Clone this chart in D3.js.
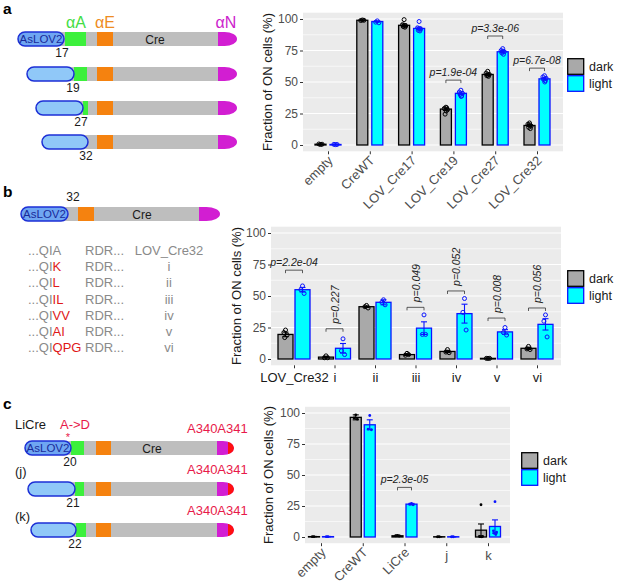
<!DOCTYPE html>
<meta charset="utf-8">
<script src="https://cdn.jsdelivr.net/npm/d3@7"></script>
<style>
  body { margin: 0; background: #fff; }
  text { font-family: "Liberation Sans", Arial, sans-serif; }
</style>
<div id="fig"></div>
<script>
// ---------- values ----------
const yTicks = [0, 25, 50, 75, 100];
const yMinor = [12.5, 37.5, 62.5, 87.5];
const groupNames = ["dark", "light"];

// panel a
const aCats = ["empty", "CreWT", "LOV_Cre17", "LOV_Cre19", "LOV_Cre27", "LOV_Cre32"];
const aDark = [0.6, 99, 95, 28.5, 56, 15.5];
const aLight = [0.4, 98, 92.5, 41, 74, 52.5];
const aDarkErr = [0.3, 0.4, 1.1, 1, 0.9, 0.8];
const aLightErr = [0.2, 0.4, 1, 1, 0.9, 0.9];
const aDarkPts = [[0.4, 0.8, 0.6], [99.2, 98.8, 99], [99.5, 95.5, 94.5, 94, 93.5, 95], [30, 29, 28, 24.5, 29.5, 27], [58.5, 57, 56, 55, 54.5, 55.5], [17.5, 16.5, 15, 14, 13, 16]];
const aLightPts = [[0.3, 0.5, 0.4], [98.5, 97.5, 97], [98, 93, 92, 91, 90.5, 92.5], [43.5, 42, 41, 40, 39, 38.5], [76.5, 75, 74, 73, 72, 74.5], [55, 54, 53, 52, 51, 50]];
const aPCats = ["LOV_Cre19", "LOV_Cre27", "LOV_Cre32"];
const aPTexts = ["p=1.9e-04", "p=3.3e-06", "p=6.7e-08"];
const aPY = [51.5, 86.5, 61];
const aLinkers = ["17", "19", "27", "32"];

// panel b
const bCats = ["LOV_Cre32", "i", "ii", "iii", "iv", "v", "vi"];
const bDark = [19.5, 1.5, 41.5, 3.5, 6, 0.5, 8.5];
const bLight = [55, 8.5, 45, 24.5, 36, 21.5, 27.5];
const bDarkErr = [1.8, 0.5, 0.6, 0.7, 0.9, 0.2, 0.9];
const bLightErr = [1.8, 3.8, 2, 5, 7.5, 1.8, 4.5];
const bDarkPts = [[23, 21, 19, 17], [2.5, 1, 1], [42.5, 41.5, 40.5], [4.5, 3, 3.5], [7.5, 5.5, 5], [0.5, 0.5, 0.5], [10, 8, 7.5]];
const bLightPts = [[58, 55, 52], [16, 6.5, 3.5], [47, 45, 43], [35, 19.5, 19.5], [48, 37, 23], [25, 21, 19], [35, 30, 17.5]];
const bPCats = ["LOV_Cre32", "i", "iii", "iv", "v", "vi"];
const bPTexts = ["p=2.2e-04", "p=0.227", "p=0.049", "p=0.052", "p=0.008", "p=0.056"];
const bPY = [70.5, 24, 41, 54, 32.5, 40.5];
const bPVertical = [false, true, true, true, true, true];
const bSeqHead = ["...QI", "...QI", "...QI", "...QI", "...QI", "...QI", "...QI"];
const bSeqMut = ["A", "K", "L", "IL", "VV", "AI", "QPG"];
const bSeqNames = ["LOV_Cre32", "i", "ii", "iii", "iv", "v", "vi"];

// panel c
const cCats = ["empty", "CreWT", "LiCre", "j", "k"];
const cDark = [0.3, 96.5, 1, 0.2, 5.5];
const cLight = [0.3, 90.5, 26.5, 0.2, 8.5];
const cDarkErr = [0.15, 2, 0.4, 0.1, 5];
const cLightErr = [0.15, 4, 0.6, 0.1, 5.3];
const cDarkPts = [[0.3, 0.3], [98.5, 96, 95], [1.2, 1, 0.8], [0.2, 0.2], [26, 0.5, 0.5, 0.3, 0.2]];
const cLightPts = [[0.3, 0.3], [98, 87, 86.5], [27, 26.5, 26], [0.2, 0.2], [28.5, 5, 4, 3, 2]];
const cPCats = ["LiCre"];
const cPTexts = ["p=2.3e-05"];
const cPY = [40];
const cNames = ["LiCre", "(j)", "(k)"];
const cLinkers = ["20", "21", "22"];

// ---------- drawing ----------
const darkFill = "#a9a9a9", lightFill = "#00ffff";
const darkLine = "#000000", lightLine = "#0a14ff";
const jit = [0, -1.6, 1.6, -0.8, 0.8, 0.3];

const svg = d3.select("#fig").append("svg").attr("width", 617).attr("height", 588);

function barChart(c) {
  const g = svg.append("g");
  const x = d3.scalePoint().domain(c.cats).range(c.xr);
  const y = d3.scaleLinear().domain([-5, 105]).range([c.yb, c.yt]);

  g.append("rect").attr("x", c.px0).attr("y", c.yt)
    .attr("width", c.px1 - c.px0).attr("height", c.yb - c.yt).attr("fill", "#ebebeb");
  g.selectAll(".minor").data(yMinor).join("line")
    .attr("x1", c.px0).attr("x2", c.px1).attr("y1", d => y(d)).attr("y2", d => y(d))
    .attr("stroke", "#fff").attr("stroke-width", 0.6);
  g.selectAll(".major").data(yTicks).join("line")
    .attr("x1", c.px0).attr("x2", c.px1).attr("y1", d => y(d)).attr("y2", d => y(d))
    .attr("stroke", "#fff").attr("stroke-width", 1.2);

  const ya = g.append("g").attr("transform", `translate(${c.px0},0)`)
    .call(d3.axisLeft(y).tickValues(yTicks).tickSize(3).tickPadding(2));
  ya.select(".domain").remove();
  ya.selectAll("line").attr("stroke", "#333");
  ya.selectAll("text").attr("fill", "#4d4d4d").style("font-size", "12px")
    .style("font-family", "Liberation Sans, Arial, sans-serif");

  const xa = g.append("g").attr("transform", `translate(0,${c.yb})`)
    .call(d3.axisBottom(x).tickSize(3));
  xa.select(".domain").remove();
  xa.selectAll("line").attr("stroke", "#333");
  const xt = xa.selectAll("text").attr("fill", c.xColor || "#4d4d4d")
    .style("font-size", "13px").style("font-family", "Liberation Sans, Arial, sans-serif");
  if (c.rotate) {
    xt.filter(d => d.length > 1)
      .attr("y", 0).attr("dy", 0).attr("text-anchor", "end")
      .attr("transform", "translate(5,10) rotate(-45)");
    xt.filter(d => d.length === 1).attr("y", 8);
  } else {
    xt.attr("y", 7);
  }

  g.append("text").attr("transform", `translate(${c.titleX},${(c.yt + c.yb) / 2}) rotate(-90)`)
    .attr("text-anchor", "middle").attr("fill", "#1a1a1a").style("font-size", "13px")
    .text("Fraction of ON cells (%)");

  const series = [
    { vals: c.dark, err: c.dErr, pts: c.dPts, off: -c.off, fill: darkFill, line: darkLine },
    { vals: c.light, err: c.lErr, pts: c.lPts, off: c.off, fill: lightFill, line: lightLine }
  ];
  series.forEach(s => {
    g.append("g").selectAll("rect").data(c.cats).join("rect")
      .attr("x", d => x(d) + s.off - c.bw / 2).attr("width", c.bw)
      .attr("y", (d, i) => y(s.vals[i]))
      .attr("height", (d, i) => y(0) - y(s.vals[i]))
      .attr("fill", s.fill).attr("stroke", s.line).attr("stroke-width", 1.3);
  });
  series.forEach(s => {
    const eg = g.append("g").attr("stroke", s.line).attr("stroke-width", 1.1);
    c.cats.forEach((d, i) => {
      const cx = x(d) + s.off, lo = y(s.vals[i] - s.err[i]), hi = y(s.vals[i] + s.err[i]);
      eg.append("line").attr("x1", cx).attr("x2", cx).attr("y1", lo).attr("y2", hi);
      eg.append("line").attr("x1", cx - 3).attr("x2", cx + 3).attr("y1", lo).attr("y2", lo);
      eg.append("line").attr("x1", cx - 3).attr("x2", cx + 3).attr("y1", hi).attr("y2", hi);
    });
    const pg = g.append("g");
    c.cats.forEach((d, i) => {
      pg.selectAll(null).data(s.pts[i]).join("circle")
        .attr("cx", (v, j) => x(d) + s.off + jit[j % jit.length])
        .attr("cy", v => y(v))
        .attr("r", c.filled ? 1.4 : 2)
        .attr("fill", c.filled ? s.line : "none")
        .attr("stroke", s.line).attr("stroke-width", c.filled ? 0 : 1);
    });
  });

  // p-value brackets
  c.pCats.forEach((d, i) => {
    const x1 = x(d) - c.off, x2 = x(d) + c.off, by = y(c.pY[i]);
    g.append("path").attr("d", `M${x1},${by + 3}V${by}H${x2}V${by + 3}`)
      .attr("fill", "none").attr("stroke", "#333").attr("stroke-width", 0.8);
    const t = g.append("text").attr("fill", "#222").style("font-size", "10.5px")
      .style("font-style", "italic").text(c.pTexts[i]);
    if (c.pVert && c.pVert[i]) {
      t.attr("text-anchor", "start")
        .attr("transform", `translate(${x(d) + 4},${by - 5}) rotate(-90)`);
    } else {
      t.attr("text-anchor", "middle").attr("x", x(d)).attr("y", by - 4);
    }
  });

  // legend
  const lg = g.append("g").attr("transform", `translate(${c.lx},${c.ly})`);
  groupNames.forEach((n, i) => {
    lg.append("rect").attr("x", 0.7).attr("y", i * 17 + 0.7).attr("width", 16).attr("height", 15.6)
      .attr("fill", i ? lightFill : darkFill).attr("stroke", i ? lightLine : darkLine)
      .attr("stroke-width", 1.3);
    lg.append("text").attr("x", 22).attr("y", i * 17 + 12.5).attr("fill", "#1a1a1a")
      .style("font-size", "12.5px").text(n);
  });
}

barChart({
  cats: aCats, dark: aDark, light: aLight, dErr: aDarkErr, lErr: aLightErr,
  dPts: aDarkPts, lPts: aLightPts, pCats: aPCats, pTexts: aPTexts, pY: aPY,
  xr: [328, 537], px0: 303, px1: 563, yb: 151.3, yt: 12.7, bw: 11, off: 7.5,
  rotate: true, titleX: 272, lx: 567, ly: 58
});
barChart({
  cats: bCats, dark: bDark, light: bLight, dErr: bDarkErr, lErr: bLightErr,
  dPts: bDarkPts, lPts: bLightPts, pCats: bPCats, pTexts: bPTexts, pY: bPY, pVert: bPVertical,
  xr: [294, 537], px0: 271, px1: 561, yb: 365.3, yt: 226.7, bw: 15, off: 8.5,
  rotate: false, xColor: "#1a1a1a", titleX: 241, lx: 567, ly: 270
});
barChart({
  cats: cCats, dark: cDark, light: cLight, dErr: cDarkErr, lErr: cLightErr,
  dPts: cDarkPts, lPts: cLightPts, pCats: cPCats, pTexts: cPTexts, pY: cPY,
  xr: [321, 488], px0: 305, px1: 510, yb: 543.2, yt: 406.8, bw: 11, off: 7,
  rotate: true, filled: true, titleX: 273, lx: 521, ly: 452
});

// ---------- construct schematics ----------
const col = { gray: "#bebebe", green: "#3cf03c", orange: "#f5820f", mag: "#d21ed2", red: "#ff1010",
  lov: "#90c8f8", lovDark: "#6fa6f2", lovLine: "#1c2fd6", greek: { A: "#44dd44", E: "#ee8c22", N: "#cc22cc" } };
const H = 14;
let clipN = 0;

function capPath(x0, y0, w) {
  const k = w * 0.35;
  return `M${x0},${y0}H${x0 + k}A${w - k},${H / 2} 0 0 1 ${x0 + k},${y0 + H}H${x0}Z`;
}

function construct(r) {
  const g = svg.append("g");
  g.append("rect").attr("x", r.lov[1] - 4).attr("y", r.y).attr("width", r.cap[0] - r.lov[1] + 5)
    .attr("height", H).attr("fill", col.gray);
  if (r.green) g.append("rect").attr("x", r.green[0]).attr("y", r.y)
    .attr("width", r.green[1] - r.green[0]).attr("height", H).attr("fill", col.green);
  g.append("rect").attr("x", r.orange[0]).attr("y", r.y)
    .attr("width", r.orange[1] - r.orange[0]).attr("height", H).attr("fill", col.orange);
  const cw = r.cap[1] - r.cap[0];
  g.append("path").attr("d", capPath(r.cap[0], r.y, cw)).attr("fill", col.mag);
  if (r.redFrom) {
    const id = "cap" + (clipN++);
    g.append("clipPath").attr("id", id).append("path").attr("d", capPath(r.cap[0], r.y, cw));
    g.append("rect").attr("x", r.redFrom).attr("y", r.y).attr("width", r.cap[1] - r.redFrom)
      .attr("height", H).attr("fill", col.red).attr("clip-path", `url(#${id})`);
  }
  g.append("rect").attr("x", r.lov[0]).attr("y", r.y).attr("width", r.lov[1] - r.lov[0])
    .attr("height", H).attr("rx", H / 2).attr("ry", H / 2)
    .attr("fill", r.named ? col.lovDark : col.lov).attr("stroke", col.lovLine).attr("stroke-width", 1.5);
  if (r.named) {
    g.append("text").attr("x", (r.lov[0] + r.lov[1]) / 2).attr("y", r.y + H / 2 + 4)
      .attr("text-anchor", "middle").attr("fill", "#1a2a9a").style("font-size", "11.5px").text("AsLOV2");
    g.append("text").attr("x", r.creX).attr("y", r.y + H / 2 + 4.5)
      .attr("text-anchor", "middle").attr("fill", "#1a1a1a").style("font-size", "12px").text("Cre");
  }
  if (r.num) g.append("text").attr("x", r.numX).attr("y", r.numY).attr("text-anchor", "middle")
    .attr("fill", "#1a1a1a").style("font-size", "12px").text(r.num);
}

// panel a rows
const aLayout = [
  { y: 32, lov: [18, 64], green: [65, 86], numX: 62, named: true },
  { y: 67, lov: [27, 74], green: [74, 87], numX: 73 },
  { y: 101, lov: [36, 83], green: [83, 88], numX: 81 },
  { y: 135, lov: [42, 88], green: null, numX: 86 }
];
aLayout.forEach((r, i) => construct(Object.assign({
  orange: [97, 113], cap: [218, 237], creX: 155, num: aLinkers[i], numY: r.y + H + 11
}, r)));

const greekA = [["αA", 76, col.greek.A], ["αE", 105, col.greek.E], ["αN", 226, col.greek.N]];
greekA.forEach(([t, gx, c]) => svg.append("text").attr("x", gx).attr("y", 28)
  .attr("text-anchor", "middle").attr("fill", c).style("font-size", "16px").text(t));

// panel b row + sequence table
construct({ y: 207, lov: [21, 68], green: null, orange: [78, 94], cap: [199, 220], creX: 142,
  named: true, num: "32", numX: 73, numY: 201 });
bSeqNames.forEach((n, i) => {
  const ty = 255 + i * 16.2;
  const t = svg.append("text").attr("x", 28).attr("y", ty).style("font-size", "13px");
  t.append("tspan").attr("fill", "#8a8a8a").text(bSeqHead[i]);
  t.append("tspan").attr("fill", i === 0 ? "#8a8a8a" : "#e01818").text(bSeqMut[i]);
  svg.append("text").attr("x", 85).attr("y", ty).attr("fill", "#8a8a8a").style("font-size", "13px").text("RDR...");
  svg.append("text").attr("x", 169).attr("y", ty).attr("text-anchor", "middle")
    .attr("fill", "#8a8a8a").style("font-size", "13px").text(n);
});

// panel c rows
const cLayout = [
  { y: 441, lov: [25, 71], green: [71, 84], numX: 70, named: true, labelY: 429 },
  { y: 482, lov: [28, 75], green: [75, 84], numX: 73, labelY: 476 },
  { y: 523, lov: [31, 76], green: [76, 86], numX: 75, labelY: 521 }
];
cLayout.forEach((r, i) => {
  construct(Object.assign({ orange: [96, 111], cap: [217, 234], redFrom: 228, creX: 152,
    num: cLinkers[i], numY: r.y + H + 11 }, r));
  svg.append("text").attr("x", 15).attr("y", r.labelY).attr("fill", "#1a1a1a")
    .style("font-size", "13px").text(cNames[i]);
  svg.append("text").attr("x", 187).attr("y", r.y - 8).attr("fill", "#e8194a")
    .style("font-size", "13px").text("A340A341");
});
svg.append("text").attr("x", 60).attr("y", 429).attr("fill", "#e8194a").style("font-size", "13px").text("A->D");
svg.append("text").attr("x", 68).attr("y", 441).attr("text-anchor", "middle").attr("fill", "#e8194a")
  .style("font-size", "11px").text("*");

// panel letters
[["a", 14], ["b", 197], ["c", 409]].forEach(([t, ly]) => svg.append("text").attr("x", 3).attr("y", ly)
  .attr("fill", "#000").style("font-size", "15.5px").style("font-weight", "bold").text(t));
</script>
